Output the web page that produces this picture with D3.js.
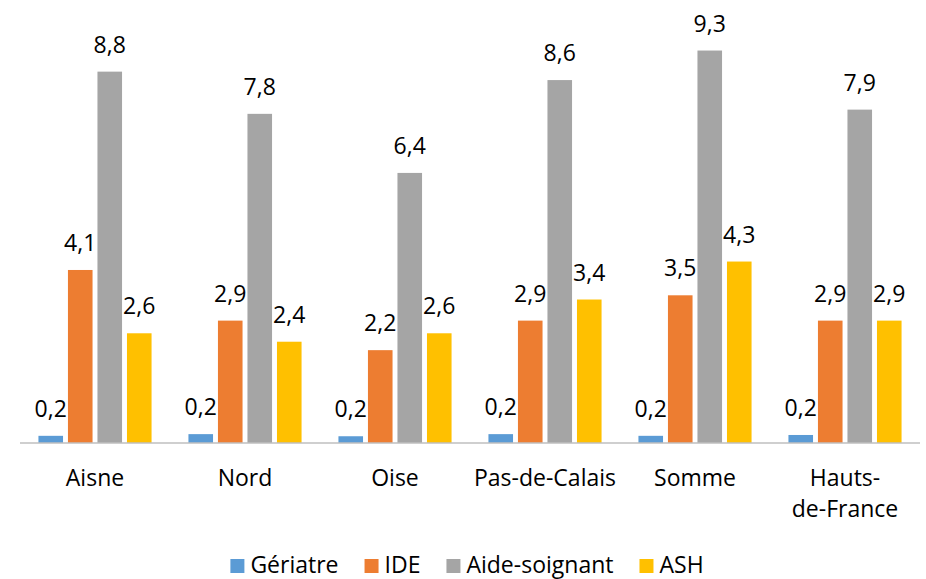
<!DOCTYPE html>
<html>
<head>
<meta charset="utf-8">
<script src="https://cdn.jsdelivr.net/npm/d3@7"></script>
<style>
  body { margin: 0; background: #fff; }
  text { font-family: "Open Sans", "Liberation Sans", sans-serif; }
</style>
</head>
<body>
<div class="container"></div>
<script>
const width = 926, height = 579;

// data
const regions = ["Aisne", "Nord", "Oise", "Pas-de-Calais", "Somme", "Hauts-de-France"];
const regionLines = [["Aisne"], ["Nord"], ["Oise"], ["Pas-de-Calais"], ["Somme"], ["Hauts-", "de-France"]];
const series = ["Gériatre", "IDE", "Aide-soignant", "ASH"];
const geriatre = [0.17, 0.21, 0.16, 0.21, 0.17, 0.19];
const ide = [4.1, 2.9, 2.2, 2.9, 3.5, 2.9];
const aideSoignant = [8.8, 7.8, 6.4, 8.6, 9.3, 7.9];
const ash = [2.6, 2.4, 2.6, 3.4, 4.3, 2.9];
const colors = ["#5B9BD5", "#ED7D31", "#A5A5A5", "#FFC000"];

const values = [geriatre, ide, aideSoignant, ash];
const fmt = v => d3.format(".1f")(v).replace(".", ",");
const FONT = 23;

const svg = d3.select(".container")
    .append("svg")
    .attr("width", width)
    .attr("height", height);

const x0 = d3.scaleBand().domain(regions).range([20, 920]).paddingInner(0).paddingOuter(0);
const y = d3.scaleLinear().domain([0, 10]).range([443, 21]);

// bar width from Excel-like gap (150%) and overlap (-20%)
const bw = x0.bandwidth() / (4 + 3 * 0.2 + 1.5);
const step = bw * 1.2;

const groups = svg.append("g")
    .selectAll("g")
    .data(regions)
    .join("g")
    .attr("transform", d => `translate(${x0(d) + x0.bandwidth() / 2 - (4 * bw + 3 * 0.2 * bw) / 2},0)`);

groups.each(function (region, ri) {
    const g = d3.select(this);
    series.forEach((s, si) => {
        const v = values[si][ri];
        g.append("rect")
            .attr("x", si * step)
            .attr("y", y(v))
            .attr("width", bw)
            .attr("height", y(0) - y(v))
            .attr("fill", colors[si]);
        g.append("text")
            .attr("x", si * step + bw / 2)
            .attr("y", y(v) - 19)
            .attr("text-anchor", "middle")
            .attr("font-size", FONT)
            .attr("fill", "#000")
            .text(fmt(v));
    });
});

// axis line
svg.append("line")
    .attr("x1", 20).attr("x2", 920)
    .attr("y1", y(0)).attr("y2", y(0))
    .attr("stroke", "#BFBFBF")
    .attr("stroke-width", 1.5);

// category labels
regions.forEach((r, i) => {
    const t = svg.append("text")
        .attr("x", x0(r) + x0.bandwidth() / 2)
        .attr("y", 486)
        .attr("text-anchor", "middle")
        .attr("font-size", FONT)
        .attr("fill", "#000");
    regionLines[i].forEach((line, li) => {
        t.append("tspan")
            .attr("x", x0(r) + x0.bandwidth() / 2)
            .attr("dy", li === 0 ? 0 : 31)
            .text(line);
    });
});

// legend
const legend = svg.append("g");
let lx = 0;
series.forEach((s, i) => {
    const item = legend.append("g").attr("transform", `translate(${lx},0)`);
    item.append("rect")
        .attr("x", 0).attr("y", 559)
        .attr("width", 14).attr("height", 14)
        .attr("fill", colors[i]);
    const t = item.append("text")
        .attr("x", 20).attr("y", 573)
        .attr("font-size", FONT)
        .attr("fill", "#000")
        .text(s);
    lx += 20 + t.node().getComputedTextLength() + 26;
});
const legendWidth = lx - 26;
legend.attr("transform", `translate(${467 - legendWidth / 2},0)`);
</script>
</body>
</html>
